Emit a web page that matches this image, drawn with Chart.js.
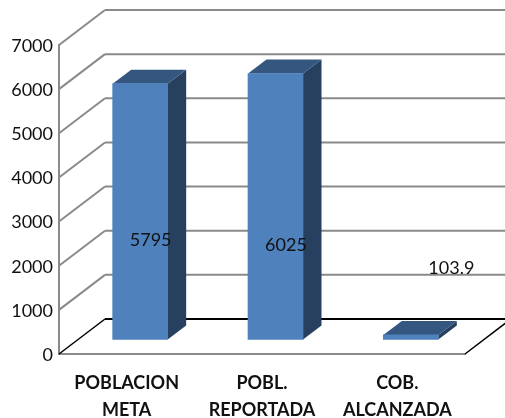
<!DOCTYPE html>
<html>
<head>
<meta charset="utf-8">
<style>
    html, body { margin: 0; padding: 0; background: #fff; }
    canvas { display: block; }
</style>
<script src="https://cdn.jsdelivr.net/npm/chart.js@4"></script>
</head>
<body>
<canvas id="coberturaChart" width="505" height="418"></canvas>
<script>
const categories = [['POBLACION', 'META'], ['POBL.', 'REPORTADA'], ['COB.', 'ALCANZADA']];
const values = [5795, 6025, 103.9];
const yMax = 7000;
const yStep = 1000;

// 3d look, all in pixels
const wallDepth = { x: 46, y: 35 };
const barDepth = { x: 18.5, y: 14 };
const barShift = { x: 13.5, y: 14.5 };
const labelShift = [{ x: 10.5, y: 29 }, { x: 10.5, y: 39 }, { x: 40.5, y: -69 }];

const gridColor = '#8a8a8a';
const frontColor = '#4f81bd';
const topColor = '#34567f';
const sideColor = '#27405f';
const textColor = '#111111';

function line(ctx, x1, y1, x2, y2, color, width) {
    ctx.beginPath();
    ctx.moveTo(x1, y1);
    ctx.lineTo(x2, y2);
    ctx.strokeStyle = color;
    ctx.lineWidth = width;
    ctx.stroke();
}

function poly(ctx, points, color) {
    ctx.beginPath();
    points.forEach((p, i) => (i ? ctx.lineTo(p[0], p[1]) : ctx.moveTo(p[0], p[1])));
    ctx.closePath();
    ctx.fillStyle = color;
    ctx.fill();
}

const walls = {
    id: 'walls',
    beforeDatasetsDraw(chart) {
        const { ctx, chartArea, scales: { y } } = chart;
        const x0 = chartArea.left;
        ctx.save();
        for (let v = yMax; v >= 0; v -= yStep) {
            const py = y.getPixelForValue(v);
            const color = v === 0 ? '#000000' : gridColor;
            line(ctx, x0, py, x0 + wallDepth.x, py - wallDepth.y, color, v === 0 ? 1.5 : 2);
            line(ctx, x0 + wallDepth.x, py - wallDepth.y, chart.width, py - wallDepth.y, color, 2);
        }
        const bottom = y.getPixelForValue(0);
        line(ctx, chartArea.right, bottom, chartArea.right + wallDepth.x, bottom - wallDepth.y, '#000000', 1.5);
        ctx.restore();
    },
};

const bars3d = {
    id: 'bars3d',
    beforeDatasetDraw(chart, args) {
        const { ctx } = chart;
        ctx.save();
        ctx.translate(barShift.x, -barShift.y);
        args.meta.data.forEach(bar => {
            const left = bar.x - bar.width / 2;
            const right = bar.x + bar.width / 2;
            const dx = barDepth.x;
            const dy = barDepth.y;
            poly(ctx, [[right, bar.y], [right + dx, bar.y - dy], [right + dx, bar.base - dy], [right, bar.base]], sideColor);
            poly(ctx, [[left, bar.y], [left + dx, bar.y - dy], [right + dx, bar.y - dy], [right, bar.y]], topColor);
        });
    },
    afterDatasetDraw(chart) {
        chart.ctx.restore();
    },
    afterDatasetsDraw(chart) {
        const { ctx } = chart;
        ctx.save();
        ctx.font = '18px Lato';
        ctx.fillStyle = textColor;
        ctx.textAlign = 'center';
        ctx.textBaseline = 'middle';
        chart.getDatasetMeta(0).data.forEach((bar, i) => {
            const midY = (bar.y + bar.base) / 2;
            ctx.fillText(String(values[i]), bar.x + barShift.x + labelShift[i].x, midY - barShift.y + labelShift[i].y);
        });
        ctx.restore();
    },
};

new Chart(document.getElementById('coberturaChart'), {
    type: 'bar',
    data: {
        labels: categories,
        datasets: [{
            data: values,
            backgroundColor: frontColor,
            borderWidth: 0,
            barThickness: 55,
            clip: false,
        }],
    },
    options: {
        responsive: false,
        animation: false,
        layout: { padding: { top: 45, right: 40, left: 0, bottom: 0 } },
        plugins: {
            legend: { display: false },
            tooltip: { enabled: false },
        },
        scales: {
            x: {
                afterFit(scale) { scale.height = 64; },
                grid: { display: false, drawTicks: false },
                border: { color: gridColor, width: 2 },
                ticks: {
                    color: textColor,
                    padding: 16,
                    maxRotation: 0,
                    autoSkip: false,
                    font: { family: 'Lato', size: 18, weight: 'bold', lineHeight: 1.5 },
                },
            },
            y: {
                min: 0,
                max: yMax,
                afterFit(scale) { scale.width = 59; },
                grid: { display: false, drawTicks: false },
                border: { color: gridColor, width: 2 },
                ticks: {
                    stepSize: yStep,
                    color: textColor,
                    padding: 6,
                    labelOffset: 1,
                    font: { family: 'Lato', size: 18 },
                    callback: value => String(value),
                },
            },
        },
    },
    plugins: [walls, bars3d],
});
</script>
</body>
</html>
